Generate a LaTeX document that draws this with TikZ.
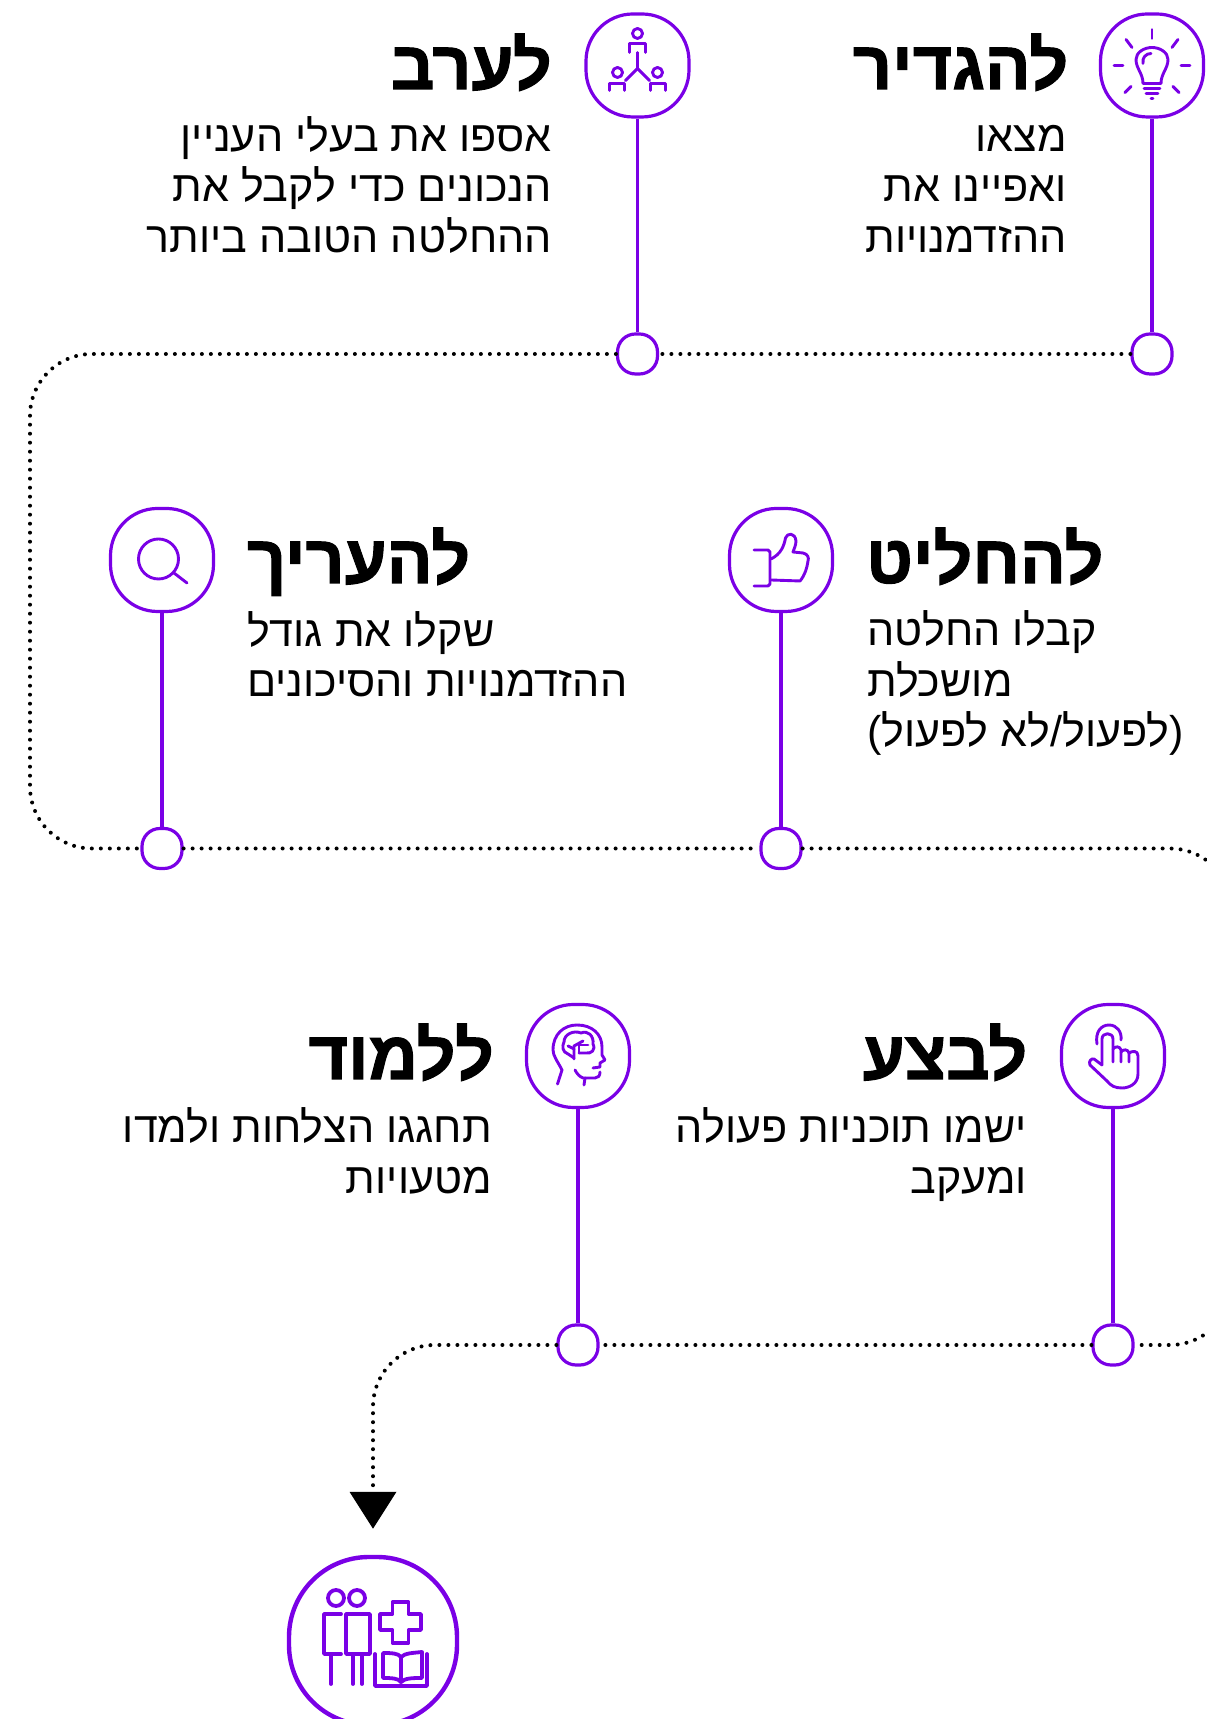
\documentclass[tikz,border=0pt]{standalone}
\usepackage{fontspec}
\setmainfont{Liberation Sans}
\newfontfamily\hebfont[Script=Hebrew]{Liberation Sans}
\newfontfamily\headfont[Script=Hebrew,BoldFeatures={FakeBold=1.6}]{Liberation Sans}
\TeXXeTstate=1
\usetikzlibrary{arrows.meta}
\definecolor{violet}{HTML}{7A00E6}
\newcommand{\rtl}[1]{\beginR #1\endR}
\tikzset{
  iconbox/.style={draw=violet,line width=3.2pt,rectangle,rounded corners=47pt,minimum size=103pt,inner sep=0pt},
  dotbox/.style={draw=violet,line width=3.2pt,rectangle,rounded corners=18pt,minimum size=40pt,inner sep=0pt},
  stem/.style={draw=violet,line width=3.2pt},
  dots/.style={draw=black,line width=4pt,line cap=round,dash pattern=on 0pt off 9pt,rounded corners=62pt},
  glyph/.style={draw=violet,line width=2.9pt,line cap=round,line join=round},
  title/.style={inner sep=0pt,font=\headfont\bfseries\fontsize{68}{68}\selectfont},
  body/.style={inner sep=0pt,execute at begin node={\rule{0pt}{36pt}},font=\hebfont\fontsize{43}{50.5}\selectfont},
}
\begin{document}
\begin{tikzpicture}[x=1pt,y=1pt]
\clip (0,0) rectangle (1207,1719);
% icons and their dots
\node[iconbox] (bulbicon) at (1152,1653.5) {};
\node[dotbox] (bulbdot) at (1152,1365) {};
\node[iconbox] (groupicon) at (637.5,1653.5) {};
\node[dotbox] (groupdot) at (637.5,1365) {};
\node[iconbox] (thumbicon) at (781,1159) {};
\node[dotbox] (thumbdot) at (781,870.5) {};
\node[iconbox] (lensicon) at (162,1159) {};
\node[dotbox] (lensdot) at (162,870.5) {};
\node[iconbox] (handicon) at (1113,663) {};
\node[dotbox] (handdot) at (1113,374) {};
\node[iconbox] (headicon) at (578,663) {};
\node[dotbox] (headdot) at (578,374) {};
\node[iconbox,line width=4.4pt,rounded corners=80pt,minimum size=168pt] (final) at (373,78) {};
% free ends of the dotted line
\coordinate (topleft) at (30,1365);
\coordinate (lowleft) at (30,870.5);
\coordinate (offright) at (1232,870.5);
\coordinate (offlow) at (1232,374);
\coordinate (turn) at (373,374);
% connectors
\draw[stem] (bulbicon) -- (bulbdot);
\draw[stem] (groupicon) -- (groupdot);
\draw[stem] (thumbicon) -- (thumbdot);
\draw[stem] (lensicon) -- (lensdot);
\draw[stem] (handicon) -- (handdot);
\draw[stem] (headicon) -- (headdot);
\draw[dots] (bulbdot) -- (groupdot);
\draw[dots] (groupdot) -- (topleft) -- (lowleft) -- (lensdot);
\draw[dots] (lensdot) -- (thumbdot);
\draw[dots] (thumbdot) -- (offright) -- (offlow) -- (handdot);
\draw[dots] (handdot) -- (headdot);
\draw[dots,-{Triangle[width=46pt,length=37pt]},shorten >=26pt] (headdot) -- (turn) -- (final);
% texts
\node[title,anchor=base east] (t1) at (1068.5,1630) {\rtl{להגדיר}};
\node[body,anchor=north east,align=right] (b1) at (1067,1594) {\rtl{מצאו}\\\rtl{ואפיינו את}\\\rtl{ההזדמנויות}};
\node[title,anchor=base east] (t2) at (552,1630) {\rtl{לערב}};
\node[body,anchor=north east,align=right] (b2) at (552,1603) {\rtl{אספו את בעלי העניין}\\\rtl{הנכונים כדי לקבל את}\\\rtl{ההחלטה הטובה ביותר}};
\node[title,anchor=base west] (t3) at (866,1136) {\rtl{להחליט}};
\node[body,anchor=north west,align=left] (b3) at (867,1108.5) {\rtl{קבלו החלטה}\\\rtl{מושכלת}\\\rtl{(לפעול/לא לפעול)}};
\node[title,anchor=base west] (t4) at (247,1136) {\rtl{להעריך}};
\node[body,anchor=north west,align=left] (b4) at (247,1108) {\rtl{שקלו את גודל}\\\rtl{ההזדמנויות והסיכונים}};
\node[title,anchor=base east] (t5) at (1027.5,640) {\rtl{לבצע}};
\node[body,anchor=north east,align=right] (b5) at (1027,611.5) {\rtl{ישמו תוכניות פעולה}\\\rtl{ומעקב}};
\node[title,anchor=base east] (t6) at (494,640) {\rtl{ללמוד}};
\node[body,anchor=north east,align=right] (b6) at (492,611.5) {\rtl{תחגגו הצלחות ולמדו}\\\rtl{מטעויות}};
% bulb
\begin{scope}[shift={(bulbicon.center)},glyph]
\draw (0,36) -- (0,27);
\draw (20,18) -- (26,26);
\draw (-20,18) -- (-26,26);
\draw (29,0) -- (38,0);
\draw (-29,0) -- (-38,0);
\draw (21,-21) -- (27,-27);
\draw (-21,-21) -- (-27,-27);
\draw (-9,-18) .. controls (-9,-8) and (-16,-3) .. (-16,6) .. controls (-16,13) and (-8,18) .. (0,18) .. controls (8,18) and (16,13) .. (16,6) .. controls (16,-3) and (9,-8) .. (9,-18) -- cycle;
\draw (-9,2) .. controls (-10,8) and (-6,12) .. (-1,12);
\draw (-8,-23) -- (8,-23);
\draw (-6,-28) -- (6,-28);
\draw (-1,-33) -- (1,-33);
\end{scope}
% people
\begin{scope}[shift={(groupicon.center)},glyph]
\draw (0,32) circle (5);
\draw (-8,13) -- (-8,22) -- (8,22) -- (8,13);
\draw (0,13) -- (0,-3);
\draw (0,-3) -- (-12,-15);
\draw (0,-3) -- (12,-15);
\draw (-20,-7) circle (5);
\draw (20,-7) circle (5);
\draw (-28,-25) -- (-28,-18) -- (-13,-18) -- (-13,-25);
\draw (13,-25) -- (13,-18) -- (28,-18) -- (28,-25);
\end{scope}
% thumb
\begin{scope}[shift={(thumbicon.center)},glyph]
\draw (-27,10) -- (-13,10) -- (-11,8) -- (-11,-24) -- (-13,-26) -- (-27,-26);
\draw (-10,1) .. controls (0,6) and (3,14) .. (4.5,22) .. controls (6,27) and (14,28) .. (15,19) .. controls (15,15) and (13,11) .. (12,8) -- (22,7) .. controls (27,6) and (28,2) .. (27,-1) .. controls (26,-8) and (24,-15) .. (19,-21) -- (-10,-20);
\end{scope}
% lens
\begin{scope}[shift={(lensicon.center)},glyph]
\draw (-3.5,1) circle (20);
\draw (12,-13) -- (25,-23);
\end{scope}
% hand
\begin{scope}[shift={(handicon.center)},glyph]
\draw (-16,12) .. controls (-18,24) and (-12,31) .. (-4,31) .. controls (4,31) and (9,24) .. (8,16);
\draw (-11,-9) -- (-11,17) .. controls (-11,24) and (0,24) .. (0,17) -- (0,-6);
\draw (0,7) .. controls (2,10) and (7,10) .. (8,6) -- (8,-6);
\draw (8,4) .. controls (10,7) and (15,7) .. (16,3) -- (16,-6);
\draw (16,3) .. controls (19,5) and (25,6) .. (25,0) -- (25,-18) .. controls (25,-28) and (16,-32) .. (9,-32) .. controls (2,-32) and (-2,-30) .. (-6,-25) -- (-23,-9) .. controls (-25,-5) and (-21,-2) .. (-19,-3) -- (-11,-9);
\end{scope}
% head
\begin{scope}[shift={(headicon.center)},glyph]
\draw (-20.5,-28) -- (-16,-14) .. controls (-20,-6) and (-25,0) .. (-25,6) .. controls (-25,22) and (-14,31) .. (-1,31) .. controls (14,31) and (24,22) .. (24,9) -- (24,1) -- (27,-4) -- (22,-7) -- (22,-11) -- (15,-12);
\draw (-3,-14) .. controls (-1,-18) and (2,-21) .. (5,-22) -- (17,-22) .. controls (20,-22) and (22,-20) .. (22,-16);
\draw (7,-22) -- (6,-29);
\draw (-4,-2) -- (-10,2) .. controls (-16,4) and (-16,10) .. (-14,14) .. controls (-14,22) and (-4,26) .. (3,23) .. controls (10,26) and (16,20) .. (15,12) .. controls (18,6) and (13,2) .. (8,3) -- (1,3);
\draw (-4,-3) -- (-4,10) -- (5,15);
\draw (-10,10) -- (-4,7);
\draw (1,3) -- (1,11) -- (10,11);
\end{scope}
% people, cross and book
\begin{scope}[shift={(final.center)},glyph,line width=3.8pt]
\draw (-37,43) circle (8);
\draw (-16,43) circle (8);
\draw (-32,27) -- (-49,27) -- (-49,-13) -- (-32,-13);
\draw (-27,27) rectangle (-3,-13);
\draw (-42,-14) -- (-42,-43);
\draw (-20,-14) -- (-20,-43);
\draw (-11,-14) -- (-11,-43);
\draw (19.5,39) -- (35.5,39) -- (35.5,27) -- (48,27) -- (48,11) -- (35.5,11) -- (35.5,-2) -- (19.5,-2) -- (19.5,11) -- (7,11) -- (7,27) -- (19.5,27) -- cycle;
\draw (2,-13) -- (2,-45) -- (54,-45) -- (54,-13);
\draw (10,-12) .. controls (18,-12) and (25,-12) .. (28,-16) .. controls (32,-12) and (40,-12) .. (49,-11) -- (49,-37) .. controls (40,-37) and (32,-37) .. (28,-41) .. controls (25,-37) and (18,-37) .. (10,-37) -- cycle;
\draw (28,-16) -- (28,-41);
\end{scope}
\end{tikzpicture}
\end{document}
